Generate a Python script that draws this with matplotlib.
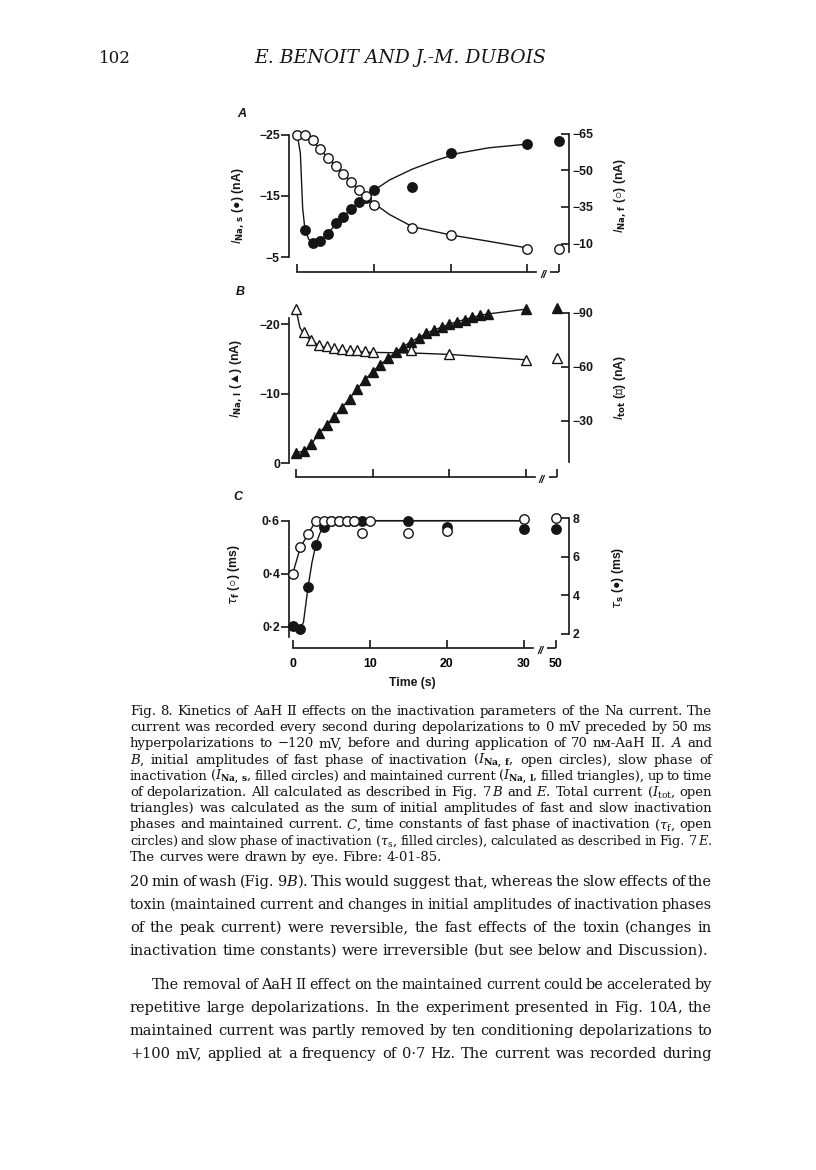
import matplotlib
matplotlib.use("Agg")
import matplotlib.pyplot as plt
from matplotlib.transforms import blended_transform_factory, ScaledTranslation

# ---- data ----
# 50 s point sits just after the axis break
T50 = 34.1

# A: slow (filled circles, left axis) and fast (open circles, right axis) amplitudes
a_t = [0, 1, 2, 3, 4, 5, 6, 7, 8, 9, 10, 15, 20, 30, 50]
a_ina_s_t = [1, 2, 3, 4, 5, 6, 7, 8, 9, 10, 15, 20, 30, 50]
a_ina_s = [-9.5, -7.3, -7.6, -8.8, -10.5, -11.5, -12.9, -14.0, -14.7, -16.0, -16.5, -22.1, -23.5, -24.0]
a_ina_f = [-64.2, -64.2, -62.2, -58.6, -55.0, -51.7, -48.5, -45.3, -42.1, -39.3, -36.0, -26.4, -23.6, -18.0, -18.0]
a_fit_s_t = [0, 0.4, 0.7, 1, 1.5, 2, 2.5, 3, 4, 5, 6, 7, 8, 9, 10, 12, 15, 18, 21, 25, 30]
a_fit_s = [-25, -22, -13, -9.5, -7.9, -7.4, -7.4, -7.8, -8.9, -10.3, -11.6, -12.9, -14.0, -15.0,
           -15.9, -17.6, -19.4, -20.8, -22.0, -22.9, -23.5]
a_fit_f_t = [0, 1, 2, 3, 4, 5, 6, 7, 8, 9, 10, 12, 15, 20, 25, 30]
a_fit_f = [-64.2, -64.0, -62.0, -58.6, -55.0, -51.7, -48.5, -45.3, -42.1, -39.2, -36.5, -32.0,
           -27.0, -23.6, -21.0, -18.3]

# B: maintained current (filled triangles, left) and total current (open triangles, right)
b_l_t = [0, 1, 2, 3, 4, 5, 6, 7, 8, 9, 10, 11, 12, 13, 14, 15, 16, 17, 18, 19, 20, 21, 22, 23, 24, 25, 30, 50]
b_ina_l = [-1.5, -1.7, -2.7, -4.3, -5.5, -6.7, -8.0, -9.3, -10.7, -12.0, -13.2, -14.2, -15.1, -16.0,
           -16.8, -17.5, -18.1, -18.7, -19.2, -19.6, -20.0, -20.4, -20.7, -21.0, -21.3, -21.5, -22.2, -22.3]
b_tot_t = [0, 1, 2, 3, 4, 5, 6, 7, 8, 9, 10, 15, 20, 30, 50]
b_tot = [-92.2, -79.2, -75.0, -72.4, -71.5, -70.6, -70.0, -69.6, -69.3, -68.7, -68.3, -69.6, -67.4, -63.8, -65.0]
b_fit_tot_t = [0, 0.5, 1, 2, 3, 4, 5, 6, 8, 10, 15, 20, 30]
b_fit_tot = [-92.2, -82, -78.5, -74.5, -72.0, -70.5, -69.6, -69.0, -68.4, -68.1, -67.8, -67.0, -64.0]

# C: time constants, fast (open circles, left) and slow (filled circles, right)
c_f_t = [0, 1, 2, 3, 4, 5, 6, 7, 8, 9, 10, 15, 20, 30, 50]
c_tau_f = [0.40, 0.50, 0.55, 0.60, 0.60, 0.60, 0.60, 0.60, 0.60, 0.552, 0.60, 0.552, 0.562, 0.605, 0.61]
c_s_t = [0, 1, 2, 3, 4, 5, 6, 7, 8, 9, 15, 20, 30, 50]
c_tau_s = [2.38, 2.24, 4.45, 6.62, 7.57, 7.88, 7.88, 7.88, 7.88, 7.88, 7.88, 7.53, 7.43, 7.43]
c_fit_f_t = [0, 1, 2, 3, 30]
c_fit_f = [0.40, 0.50, 0.55, 0.60, 0.60]
c_fit_s_t = [0, 1, 1.4, 2, 2.5, 3, 3.5, 4, 5, 30]
c_fit_s = [2.38, 2.24, 2.6, 4.45, 5.7, 6.62, 7.2, 7.57, 7.88, 7.88]

caption_lines = [
    "Fig. 8.  Kinetics of AaH II effects on the inactivation parameters of the Na current. The",
    "current was recorded every second during depolarizations to 0 mV preceded by 50 ms",
    "hyperpolarizations to \u2212120 mV, before and during application of 70 n\u1d0d-AaH II. $A$ and",
    r"$B$, initial amplitudes of fast phase of inactivation ($I_{\mathbf{Na,\,f}}$, open circles), slow phase of",
    r"inactivation ($I_{\mathbf{Na,\,s}}$, filled circles) and maintained current ($I_{\mathbf{Na,\,l}}$, filled triangles), up to time",
    r"of depolarization. All calculated as described in Fig. 7$\,B$ and $E$. Total current ($I_{\mathrm{tot}}$, open",
    "triangles) was calculated as the sum of initial amplitudes of fast and slow inactivation",
    r"phases and maintained current. $C$, time constants of fast phase of inactivation ($\tau_{\mathrm{f}}$, open",
    r"circles) and slow phase of inactivation ($\tau_{\mathrm{s}}$, filled circles), calculated as described in Fig. 7$\,E$.",
    "The curves were drawn by eye. Fibre: 4-01-85.",
]
body_lines = [
    "20 min of wash (Fig. 9$B$). This would suggest that, whereas the slow effects of the",
    "toxin (maintained current and changes in initial amplitudes of inactivation phases",
    "of the peak current) were reversible, the fast effects of the toxin (changes in",
    "inactivation time constants) were irreversible (but see below and Discussion).",
    "The removal of AaH II effect on the maintained current could be accelerated by",
    "repetitive large depolarizations. In the experiment presented in Fig. 10$A$, the",
    "maintained current was partly removed by ten conditioning depolarizations to",
    "+100 mV, applied at a frequency of 0\u00b77 Hz. The current was recorded during",
]

W, H = 816, 1170
SANS = ["Liberation Sans", "DejaVu Sans"]
SERIF = ["DejaVu Serif", "DejaVu Sans"]
K = "#151515"
TS = 8.8  # tick / label size
plt.rcParams["font.family"] = SANS

fig = plt.figure(figsize=(W / 100, H / 100), dpi=100)
fig.patch.set_facecolor("white")


def brk(t):
    return [T50 if v == 50 else v for v in t]


def make_panel(top, bottom, t0_px, xoff_px, ylim, ybounds, yticks, ylabels,
               ylim2, ybounds2, yticks2, ylabels2, left_px=289.3, right_px=568.5, sec_px=7.66):
    ax = fig.add_axes([left_px / W, 1 - bottom / H, (right_px - left_px) / W, (bottom - top) / H])
    ax.set_xlim((left_px - t0_px) / sec_px, (right_px - t0_px) / sec_px)
    ax.set_ylim(*ylim)
    ax2 = ax.twinx()
    ax2.set_ylim(*ylim2)
    for a in (ax, ax2):
        a.patch.set_visible(False)
        for s in a.spines.values():
            s.set_visible(False)
            s.set_linewidth(1.2)
            s.set_color(K)
    off = xoff_px * 72 / 100
    ax.spines["left"].set_visible(True)
    ax.spines["left"].set_bounds(*ybounds)
    ax.spines["bottom"].set_visible(True)
    ax.spines["bottom"].set_position(("outward", off))
    ax.spines["bottom"].set_bounds(0, 31.2)
    ax2.spines["right"].set_visible(True)
    ax2.spines["right"].set_bounds(*ybounds2)
    ax.set_yticks(yticks, ylabels)
    ax2.set_yticks(yticks2, ylabels2)
    ax.set_xticks([0, 10, 20, 30, T50], [""] * 5)
    ax.tick_params(axis="y", direction="out", length=5.5, width=1.2, pad=1.2,
                   labelsize=TS, color=K, labelcolor=K)
    ax2.tick_params(axis="y", direction="in", length=5.5, width=1.2, pad=3.0,
                    labelsize=TS, color=K, labelcolor=K)
    ax.tick_params(axis="x", direction="in", length=6.0, width=1.2, color=K, labelsize=TS, pad=7.5)
    for lab in ax.get_yticklabels() + ax2.get_yticklabels():
        lab.set_fontweight("bold")
    # axis break
    tr = blended_transform_factory(ax.transData, ax.transAxes) + ScaledTranslation(0, -off / 72, fig.dpi_scale_trans)
    ax.plot([33.0, T50], [0, 0], transform=tr, color=K, lw=1.2, clip_on=False, solid_capstyle="butt")
    ax.text(32.1, -0.02, "//", transform=tr, ha="center", va="center", fontsize=8,
            fontweight="bold", style="italic", color=K)
    return ax, ax2


mk = dict(markersize=6.8, markeredgewidth=1.0, markeredgecolor=K, linestyle="none", clip_on=False)
ln = dict(color=K, lw=1.0, clip_on=False)

# ---- panel A ----
axA, axA2 = make_panel(129, 263, 297.3, 9, (-4.02, -25.98), (-25, -5), [-25, -15, -5],
                       ["\u221225", "\u221215", "\u22125"],
                       (-12.14, -66.84), (-65, -16.5), [-65, -50, -35, -20],
                       ["\u221265", "\u221250", "\u221235", "\u221210"])
axA.plot(a_fit_s_t, a_fit_s, **ln)
axA2.plot(a_fit_f_t, a_fit_f, **ln)
axA.plot(brk(a_ina_s_t), a_ina_s, marker="o", markerfacecolor=K, **mk)
axA2.plot(brk(a_t), a_ina_f, marker="o", markerfacecolor="white", **mk)

# ---- panel B ----
axB, axB2 = make_panel(305, 466, 296.0, 11, (0.43, -22.8), (0, -20.9), [0, -10, -20],
                       ["0", "\u221210", "\u221220"],
                       (-5.0, -94.44), (-7, -90), [-90, -60, -30],
                       ["\u221290", "\u221260", "\u221230"])
axB.plot(b_l_t[:-1], b_ina_l[:-1], **ln)
axB2.plot(b_fit_tot_t, b_fit_tot, **ln)
axB.plot(brk(b_l_t), b_ina_l, marker="^", markerfacecolor=K, **mk)
axB2.plot(brk(b_tot_t), b_tot, marker="^", markerfacecolor="white", **mk)

# ---- panel C ----
axC, axC2 = make_panel(512, 640, 292.7, 8, (0.150, 0.633), (0.162, 0.6), [0.2, 0.4, 0.6],
                       ["0\u00b72", "0\u00b74", "0\u00b76"],
                       (1.67, 8.33), (2, 8), [2, 4, 6, 8], ["2", "4", "6", "8"],
                       sec_px=7.71)
axC.set_xticks([0, 10, 20, 30, T50], ["0", "10", "20", "30", "50"])
for lab in axC.get_xticklabels():
    lab.set_fontweight("bold")
axC.plot(c_fit_f_t, c_fit_f, **ln)
axC2.plot(c_fit_s_t, c_fit_s, **ln)
axC2.plot(brk(c_s_t), c_tau_s, marker="o", markerfacecolor=K, **mk)
axC.plot(brk(c_f_t), c_tau_f, marker="o", markerfacecolor="white", zorder=3, **mk)
axC.set_zorder(3)
axC.patch.set_visible(False)

# ---- axis labels and panel letters ----
lab = dict(rotation=90, ha="center", va="center", fontsize=TS, fontweight="bold",
           math_fontfamily="dejavusans", color=K)
fig.text(238 / W, 1 - 206 / H, r"$I_{\mathbf{Na,\,s}}$ (" + "\u25cf" + ") (nA)", **lab)
fig.text(620 / W, 1 - 195 / H, r"$I_{\mathbf{Na,\,f}}$ (" + "\u25cb" + ") (nA)", **lab)
fig.text(236 / W, 1 - 378 / H, r"$I_{\mathbf{Na,\,l}}$ (" + "\u25b2" + ") (nA)", **lab)
fig.text(620 / W, 1 - 388 / H, r"$I_{\mathbf{tot}}$ (" + "\u25b3" + ") (nA)", **lab)
fig.text(234 / W, 1 - 575 / H, r"$\tau_{\mathbf{f}}$ (" + "\u25cb" + ") (ms)", **lab)
fig.text(618 / W, 1 - 578 / H, r"$\tau_{\mathbf{s}}$ (" + "\u25cf" + ") (ms)", **lab)
fig.text(412 / W, 1 - 683 / H, "Time (s)", ha="center", va="center", fontsize=TS,
         fontweight="bold", color=K)
for letter, (x, y) in {"A": (242, 114), "B": (240, 292), "C": (238, 497)}.items():
    fig.text(x / W, 1 - y / H, letter, ha="center", va="center", fontsize=9,
             fontweight="bold", style="italic", color=K)

# ---- page text ----
fig.text(99 / W, 1 - 63 / H, "102", fontsize=12, family=SERIF, color=K, va="baseline")
fig.text(400 / W, 1 - 63 / H, "E. BENOIT AND J.-M. DUBOIS", fontsize=13.5, family=SERIF,
         style="italic", color=K, va="baseline", ha="center")

renderer = fig.canvas.get_renderer()
SP = 0.3  # normal word space, em


def natural(line, size):
    words = line.split()
    tot = 0
    for w in words:
        t = fig.text(0, 0, w, fontsize=size, family=SERIF, math_fontfamily="dejavuserif")
        tot += t.get_window_extent(renderer).width
        t.remove()
    return tot, len(words)


def fit_size(lines, width, base=10.0, q=0.25):
    nat = sorted(tw + (n - 1) * SP * base * 100 / 72 for tw, n in (natural(l, base) for l in lines))
    ref = nat[int(len(nat) * q)]
    return base * width / ref * 0.99


def set_lines(lines, x0, x1, y_pos, size, free=(), indents=None):
    indents = indents or {}
    for i, line in enumerate(lines):
        words = line.split()
        ind = indents.get(i, 0)
        s = size
        tw, n = natural(line, s)
        min_gap = 0.2 * s * 100 / 72
        if i not in free and tw + (n - 1) * min_gap > x1 - x0 - ind:
            s = size * (x1 - x0 - ind - (n - 1) * min_gap) / tw
        y = 1 - y_pos[i] / H
        arts = [fig.text(0, y, w, fontsize=s, family=SERIF, math_fontfamily="dejavuserif",
                         va="baseline", color=K) for w in words]
        ws = [a.get_window_extent(renderer).width for a in arts]
        if i in free or n < 2:
            gap = SP * s * 100 / 72
        else:
            gap = (x1 - x0 - ind - sum(ws)) / (n - 1)
        x = x0 + ind
        for a, w in zip(arts, ws):
            a.set_x(x / W)
            x += w + gap


cap_size = fit_size(caption_lines[:-1], 712 - 130)
set_lines(caption_lines, 130, 712, [715 + 16.2 * i for i in range(10)], cap_size, free=(9,))
body_size = fit_size(body_lines, 712 - 130)
set_lines(body_lines, 130, 712, [886, 909, 932, 955, 989, 1012, 1035, 1058], body_size,
          free=(3,), indents={4: 22})

fig.savefig("out.png", dpi=100, facecolor="white")
